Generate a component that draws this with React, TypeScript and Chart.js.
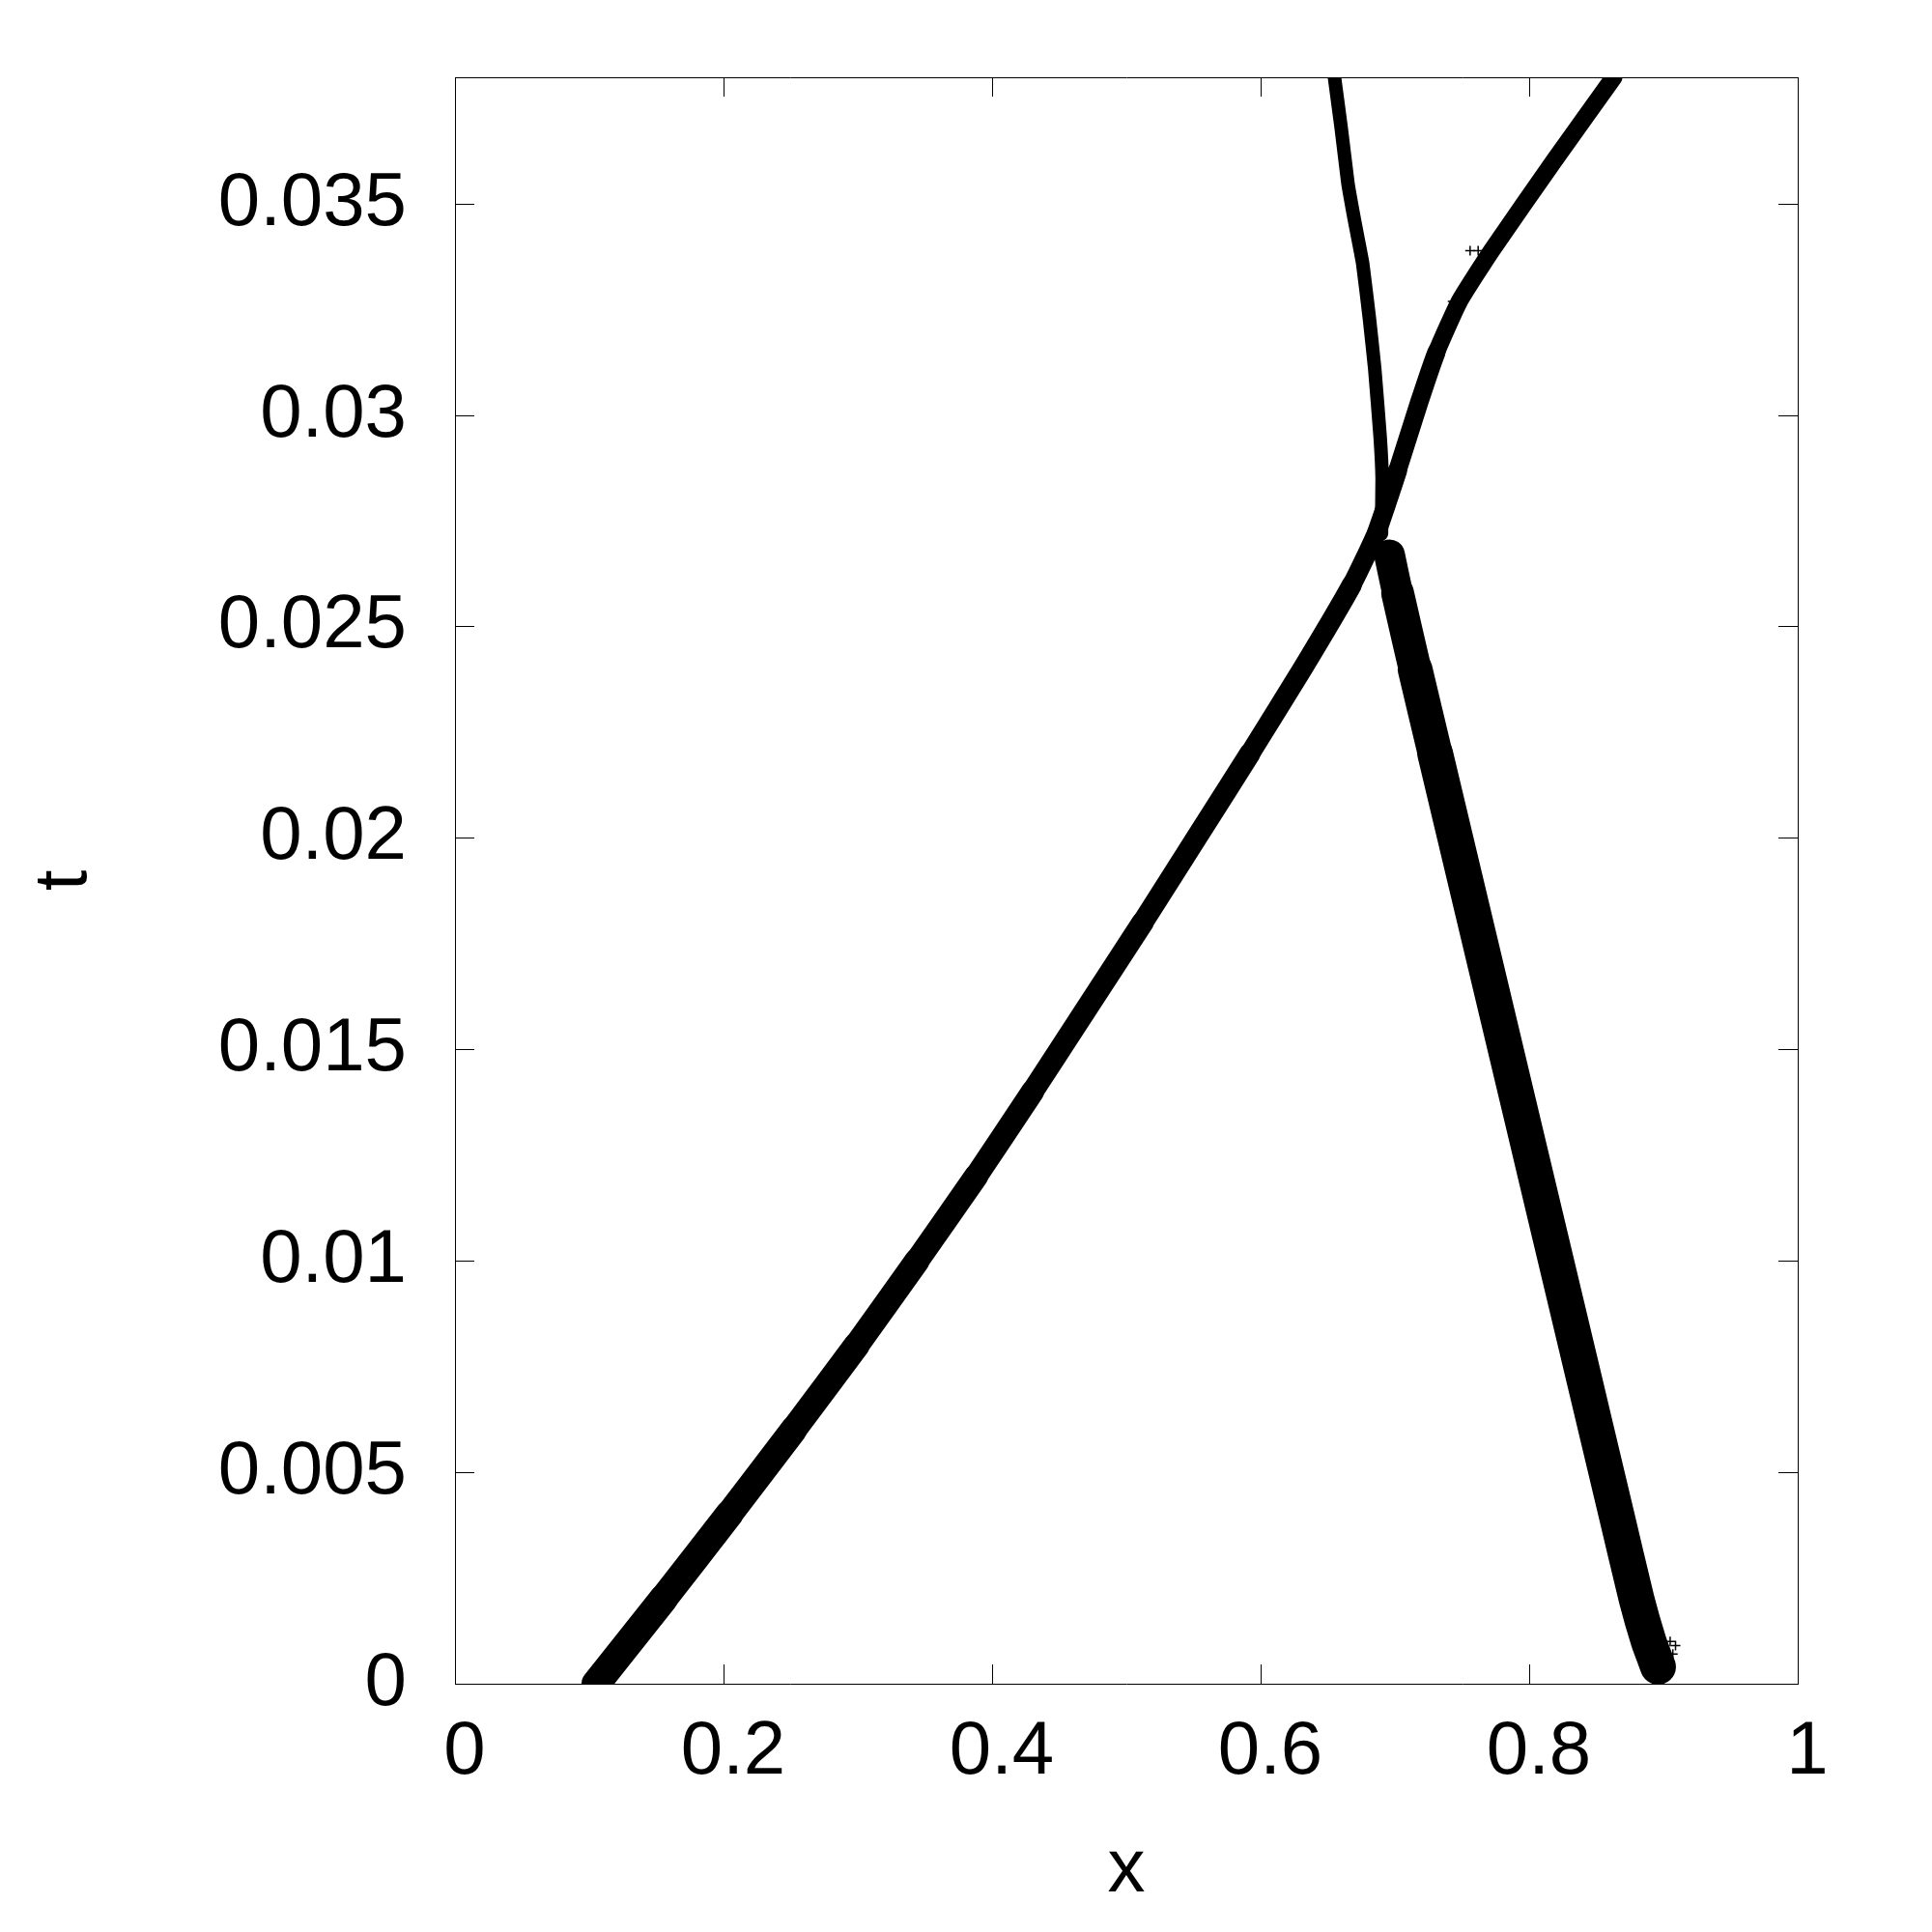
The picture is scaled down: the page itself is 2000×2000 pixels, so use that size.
import React, { useEffect, useRef } from "react";
import { Chart, registerables } from "chart.js";

Chart.register(...registerables);

// ---- axis ticks ----
const xTicks = [0, 0.2, 0.4, 0.6, 0.8, 1];
const tTicks = [0, 0.005, 0.01, 0.015, 0.02, 0.025, 0.03, 0.035];
const xLabel = "x";
const tLabel = "t";

// ---- data ----
// left-starting wave (rises to the right, continues past the crossing)
const leftWaveT = [0, 0.002, 0.004, 0.006, 0.008, 0.01, 0.012, 0.014, 0.016, 0.018, 0.02, 0.022, 0.024, 0.026, 0.0272, 0.0287, 0.0303, 0.0315, 0.0327, 0.0339, 0.036, 0.038];
const leftWaveX = [0.105, 0.155, 0.204, 0.252, 0.299, 0.344, 0.388, 0.43, 0.471, 0.512, 0.552, 0.592, 0.631, 0.668, 0.686, 0.702, 0.718, 0.731, 0.748, 0.772, 0.818, 0.863];

// right-starting wave (moves to the left, ends at the crossing)
const rightWaveT = [0.0004, 0.001, 0.002, 0.004, 0.006, 0.008, 0.01, 0.012, 0.014, 0.016, 0.018, 0.02, 0.022, 0.024, 0.0258, 0.0267];
const rightWaveX = [0.896, 0.889, 0.88, 0.865, 0.85, 0.835, 0.82, 0.805, 0.79, 0.775, 0.76, 0.745, 0.73, 0.715, 0.702, 0.696];

// thin branch leaving the crossing towards the upper left
const thinWaveT = [0.0272, 0.0285, 0.0295, 0.0311, 0.0323, 0.0336, 0.0346, 0.0355, 0.0368, 0.038];
const thinWaveX = [0.69, 0.6905, 0.689, 0.685, 0.681, 0.676, 0.67, 0.665, 0.66, 0.655];

// isolated markers
const strayT = [0.0339, 0.0339, 0.0327, 0.0327, 0.001, 0.0009, 0.0007];
const strayX = [0.756, 0.762, 0.743, 0.747, 0.905, 0.909, 0.907];

// ---- styles (stroke widths per segment, px) ----
const leftWaveWidths = [30, 29, 28, 27, 26, 25, 24, 23, 23, 22, 22, 21, 21, 20, 20, 19, 19, 18, 18, 18, 18];
const rightWaveWidths = [37, 37, 37, 37, 37, 37, 37, 37, 37, 37, 37, 37, 36, 34, 32];
const thinWaveWidths = [14, 14, 14, 14, 14, 14, 14, 14, 14];

const FONT = { family: "'Liberation Sans', Arial, sans-serif", size: 78 };
const INK = "#000000";

const pts = (xs: number[], ts: number[]) => xs.map((x, i) => ({ x, y: ts[i] }));
const fmt = (v: number) => String(Number(Number(v).toFixed(3)));
const setTicks = (vals: number[]) => (scale: any) => {
  scale.ticks = vals.map((v) => ({ value: v }));
};

function bandDataset(xs: number[], ts: number[], widths: number[], tension: number) {
  return {
    data: pts(xs, ts),
    showLine: true,
    borderColor: INK,
    backgroundColor: INK,
    borderWidth: widths[0],
    borderCapStyle: "round",
    borderJoinStyle: "round",
    pointRadius: 0,
    pointHoverRadius: 0,
    tension,
    clip: 0,
    segment: {
      borderWidth: (ctx: any) => widths[Math.min(ctx.p0DataIndex, widths.length - 1)],
    },
  };
}

export default function App() {
  const ref = useRef<HTMLCanvasElement | null>(null);

  useEffect(() => {
    if (!ref.current) return;
    const gridCommon = {
      drawOnChartArea: false,
      drawTicks: true,
      tickLength: -20,
      color: INK,
      lineWidth: 1,
    };
    const borderCommon = { display: true, color: INK, width: 1 };

    const chart = new Chart(ref.current, {
      type: "scatter",
      data: {
        datasets: [
          bandDataset(leftWaveX, leftWaveT, leftWaveWidths, 0.15) as any,
          bandDataset(rightWaveX, rightWaveT, rightWaveWidths, 0.15) as any,
          bandDataset(thinWaveX, thinWaveT, thinWaveWidths, 0.1) as any,
          {
            data: pts(strayX, strayT),
            showLine: false,
            pointStyle: "cross",
            pointRadius: 5,
            pointBorderWidth: 1.5,
            borderColor: INK,
            backgroundColor: INK,
          } as any,
        ],
      },
      options: {
        animation: false,
        responsive: false,
        devicePixelRatio: 1,
        events: [],
        layout: { padding: { left: 0, top: 80, right: 139, bottom: 0 } },
        plugins: {
          legend: { display: false },
          tooltip: { enabled: false },
        },
        scales: {
          x: {
            type: "linear",
            position: "bottom",
            min: 0,
            max: 1,
            afterBuildTicks: setTicks(xTicks),
            afterFit: (s: any) => {
              s.height = 257;
              s.paddingLeft = 0;
              s.paddingRight = 0;
            },
            grid: gridCommon,
            border: borderCommon,
            ticks: {
              color: INK,
              font: FONT,
              padding: 45,
              labelOffset: 10,
              maxRotation: 0,
              autoSkip: false,
              callback: (v: any) => fmt(v),
            },
            title: {
              display: true,
              text: xLabel,
              color: INK,
              font: FONT,
              padding: { top: 0, bottom: 17 },
            },
          },
          y: {
            type: "linear",
            position: "left",
            min: 0,
            max: 0.038,
            afterBuildTicks: setTicks(tTicks),
            afterFit: (s: any) => {
              s.width = 471;
              s.paddingTop = 0;
              s.paddingBottom = 0;
            },
            grid: gridCommon,
            border: borderCommon,
            ticks: {
              color: INK,
              font: FONT,
              padding: 70,
              autoSkip: false,
              callback: (v: any) => fmt(v),
            },
            title: {
              display: true,
              text: tLabel,
              color: INK,
              font: FONT,
              padding: { top: 21, bottom: 0 },
            },
          },
          x2: {
            type: "linear",
            position: "top",
            min: 0,
            max: 1,
            afterBuildTicks: setTicks(xTicks),
            afterFit: (s: any) => {
              s.height = 0;
              s.paddingLeft = 0;
              s.paddingRight = 0;
            },
            grid: gridCommon,
            border: borderCommon,
            ticks: { display: false },
          },
          y2: {
            type: "linear",
            position: "right",
            min: 0,
            max: 0.038,
            afterBuildTicks: setTicks(tTicks),
            afterFit: (s: any) => {
              s.width = 0;
              s.paddingTop = 0;
              s.paddingBottom = 0;
            },
            grid: gridCommon,
            border: borderCommon,
            ticks: { display: false },
          },
        },
      } as any,
    });
    return () => chart.destroy();
  }, []);

  return (
    <div style={{ position: "absolute", left: 0, top: 0, width: 2000, height: 2000, background: "#ffffff" }}>
      <canvas ref={ref} width={2000} height={2000} style={{ width: 2000, height: 2000, display: "block" }} />
    </div>
  );
}
